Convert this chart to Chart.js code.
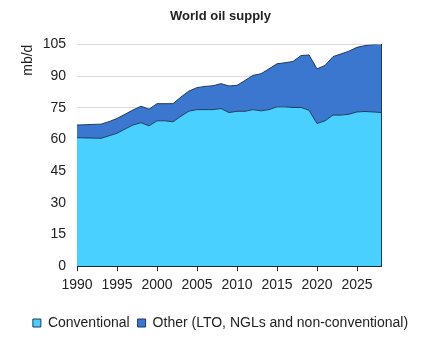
<!DOCTYPE html>
<html>
<head>
<meta charset="utf-8">
<script src="https://cdn.jsdelivr.net/npm/chart.js@4"></script>
<style>
  html, body { margin: 0; padding: 0; background: #fff; }
  #wrap { width: 425px; height: 340px; }
</style>
</head>
<body>
<div id="wrap"><canvas id="oilChart" width="425" height="340"></canvas></div>
<script>
// years on the x axis
const years = [];
for (let y = 1990; y <= 2028; y++) years.push(y);

// conventional supply, mb/d
const conventional = [
  60.9, 60.8, 60.7, 60.6, 61.8, 63.0, 65.0, 66.9, 68.0, 66.5,
  68.9, 68.9, 68.4, 71.1, 73.5, 74.2, 74.2, 74.2, 74.7, 72.8,
  73.4, 73.4, 74.2, 73.6, 74.2, 75.5, 75.5, 75.2, 75.2, 73.9,
  67.6, 68.9, 71.6, 71.6, 72.0, 73.1, 73.3, 73.1, 72.8
];
// total supply (top of the stack), mb/d
const total = [
  66.9, 67.0, 67.2, 67.3, 68.5, 70.0, 72.0, 74.0, 75.8, 74.4,
  77.0, 77.0, 77.0, 80.2, 83.0, 84.6, 85.2, 85.5, 86.5, 85.4,
  85.7, 88.0, 90.4, 91.2, 93.5, 95.9, 96.4, 97.0, 99.8, 100.1,
  93.5, 95.1, 99.3, 100.6, 101.9, 103.7, 104.5, 105.0, 105.3
];
// other = LTO, NGLs and non-conventional
const other = total.map((t, i) => +(t - conventional[i]).toFixed(1));

const seriesNames = ['Conventional', 'Other (LTO, NGLs and non-conventional)'];
const yTicks = [0, 15, 30, 45, 60, 75, 90, 105];
const xTicks = [1990, 1995, 2000, 2005, 2010, 2015, 2020, 2025];

const txt = '#222';
const edge = '#1f3a5f';
const fam = '"Liberation Sans", Arial, sans-serif';

const ctx = document.getElementById('oilChart').getContext('2d');
const myChart = new Chart(ctx, {
  type: 'line',
  data: {
    datasets: [
      {
        label: seriesNames[0],
        data: years.map((yr, i) => ({ x: yr, y: conventional[i] })),
        backgroundColor: '#4ad0fe',
        borderColor: edge,
        borderWidth: 1,
        fill: 'origin',
        pointRadius: 0,
        tension: 0
      },
      {
        label: seriesNames[1],
        data: years.map((yr, i) => ({ x: yr, y: other[i] })),
        backgroundColor: '#3b77cf',
        borderColor: edge,
        borderWidth: 1,
        fill: '-1',
        pointRadius: 0,
        tension: 0
      }
    ]
  },
  options: {
    responsive: false,
    animation: false,
    layout: { padding: { left: 16, right: 0, top: 4, bottom: 0 } },
    plugins: {
      title: {
        display: true,
        text: 'World oil supply',
        color: txt,
        font: { family: fam, size: 13, weight: 'bold' },
        padding: { top: 5, bottom: 20 }
      },
      legend: {
        position: 'bottom',
        labels: {
          color: txt,
          font: { family: fam, size: 14 },
          boxWidth: 8,
          boxHeight: 8,
          padding: 8
        }
      },
      tooltip: { enabled: false }
    },
    scales: {
      x: {
        type: 'linear',
        min: 1990,
        max: 2028,
        afterBuildTicks: axis => { axis.ticks = xTicks.map(v => ({ value: v })); },
        afterFit: s => { s.height += 8; },
        ticks: {
          color: txt,
          font: { family: fam, size: 14 },
          maxRotation: 0,
          autoSkip: false,
          padding: 6,
          callback: v => String(v)
        },
        grid: { display: true, drawOnChartArea: false, tickLength: 5, color: '#222' },
        border: { display: true, color: '#222', width: 1 }
      },
      y: {
        stacked: true,
        min: 0,
        max: 105,
        afterBuildTicks: axis => { axis.ticks = yTicks.map(v => ({ value: v })); },
        afterFit: s => { s.width = 61; },
        ticks: {
          color: txt,
          font: { family: fam, size: 14 },
          padding: 11
        },
        grid: { color: '#d9d9d9', drawTicks: false },
        border: { display: false },
        title: {
          display: true,
          text: 'mb/d',
          align: 'end',
          color: txt,
          font: { family: fam, size: 14 },
          padding: { top: 4, bottom: 0 }
        }
      },
      // empty right-hand spacer so the plot ends where the original does
      spacer: {
        type: 'linear',
        position: 'right',
        display: true,
        ticks: { display: false },
        grid: { display: false },
        border: { display: true, color: edge, width: 1 },
        afterFit: s => { s.width = 44; }
      }
    }
  }
});
</script>
</body>
</html>
